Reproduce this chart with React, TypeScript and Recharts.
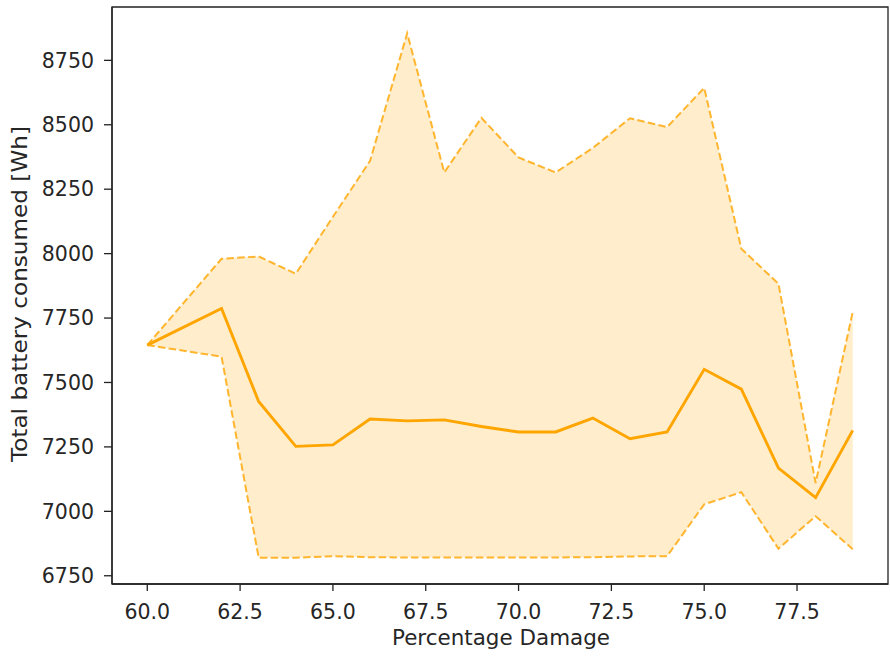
import React from 'react';
import { ComposedChart, Area, Line, XAxis, YAxis, ReferenceArea } from 'recharts';

const damage = [60, 62, 63, 64, 65, 66, 67, 68, 69, 70, 71, 72, 73, 74, 75, 76, 77, 78, 79];
const meanBattery = [7645, 7787, 7426, 7252, 7258, 7358, 7351, 7355, 7329, 7308, 7308, 7362, 7282, 7308, 7551, 7474, 7168, 7053, 7314];
const upperBattery = [7645, 7980, 7989, 7922, 8143, 8360, 8855, 8315, 8527, 8373, 8315, 8410, 8525, 8491, 8643, 8019, 7883, 7110, 7774];
const lowerBattery = [7645, 7600, 6820, 6820, 6826, 6822, 6821, 6821, 6821, 6821, 6821, 6822, 6825, 6826, 7027, 7074, 6855, 6981, 6853];
const xTicks = [60, 62.5, 65, 67.5, 70, 72.5, 75, 77.5];
const yTicks = [6750, 7000, 7250, 7500, 7750, 8000, 8250, 8500, 8750];

const data = damage.map((x, i) => ({
  x,
  mean: meanBattery[i],
  upper: upperBattery[i],
  lower: lowerBattery[i],
  band: [lowerBattery[i], upperBattery[i]],
}));

const FONT = '"DejaVu Sans", sans-serif';
const TXT = '#262626';
const xDomain = [59.05, 79.95];
const yDomain = [6718, 8957];

export default function App() {
  return (
    <div style={{ position: 'absolute', left: 0, top: 0 }}>
      <ComposedChart
        width={890}
        height={656}
        data={data}
        margin={{ top: 7, right: 2, bottom: 0, left: 0 }}
        style={{ fontFamily: FONT }}
      >
        <XAxis
          dataKey="x"
          type="number"
          domain={xDomain}
          allowDataOverflow
          ticks={xTicks}
          tickFormatter={(v: number) => v.toFixed(1)}
          height={72}
          tickSize={7}
          tickMargin={13}
          axisLine={{ stroke: '#222', strokeWidth: 1.3 }}
          tickLine={{ stroke: '#222', strokeWidth: 1.3 }}
          tick={{ fill: TXT, fontSize: 20.5, fontFamily: FONT }}
          label={{
            content: () => (
              <text
                x={501}
                y={645}
                textAnchor="middle"
                fill={TXT}
                fontSize={20.5}
                fontFamily={FONT}
                textLength={218}
                lengthAdjust="spacingAndGlyphs"
              >
                Percentage Damage
              </text>
            ),
          }}
        />
        <YAxis
          type="number"
          domain={yDomain}
          allowDataOverflow
          ticks={yTicks}
          width={112}
          tickSize={8}
          tickMargin={10}
          axisLine={{ stroke: '#222', strokeWidth: 1.3 }}
          tickLine={{ stroke: '#222', strokeWidth: 1.3 }}
          tick={{ fill: TXT, fontSize: 20.5, fontFamily: FONT }}
          label={{
            content: () => (
              <text
                x={27}
                y={294}
                transform="rotate(-90 27 294)"
                textAnchor="middle"
                fill={TXT}
                fontSize={20.5}
                fontFamily={FONT}
                textLength={336}
                lengthAdjust="spacingAndGlyphs"
              >
                Total battery consumed [Wh]
              </text>
            ),
          }}
        />
        <Area
          dataKey="band"
          type="linear"
          stroke="none"
          fill="#FFA500"
          fillOpacity={0.2}
          isAnimationActive={false}
          activeDot={false}
          dot={false}
        />
        <Line
          dataKey="upper"
          type="linear"
          stroke="#FFA500"
          strokeOpacity={0.8}
          strokeWidth={2}
          strokeDasharray="7.5 3.3"
          dot={false}
          activeDot={false}
          isAnimationActive={false}
        />
        <Line
          dataKey="lower"
          type="linear"
          stroke="#FFA500"
          strokeOpacity={0.8}
          strokeWidth={2}
          strokeDasharray="7.5 3.3"
          dot={false}
          activeDot={false}
          isAnimationActive={false}
        />
        <Line
          dataKey="mean"
          type="linear"
          stroke="#FFA500"
          strokeWidth={2.9}
          dot={false}
          activeDot={false}
          isAnimationActive={false}
        />
        <ReferenceArea
          x1={xDomain[0]}
          x2={xDomain[1]}
          y1={yDomain[0]}
          y2={yDomain[1]}
          fill="none"
          stroke="#222"
          strokeWidth={1.3}
          ifOverflow="visible"
        />
      </ComposedChart>
    </div>
  );
}
